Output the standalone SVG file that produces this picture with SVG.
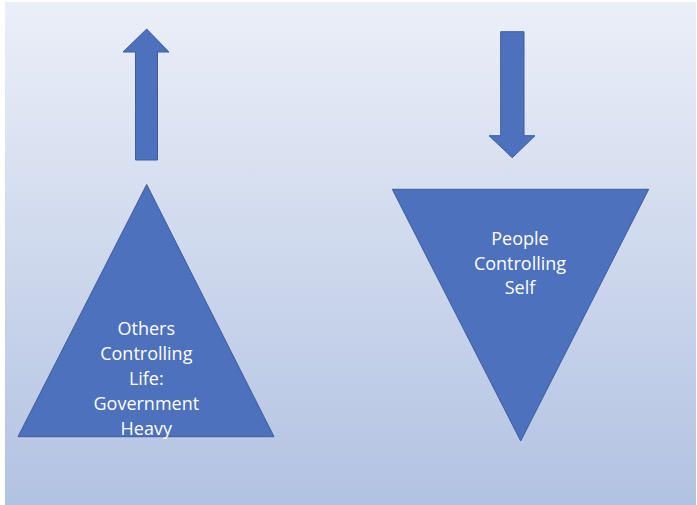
<svg xmlns="http://www.w3.org/2000/svg" width="697" height="505" viewBox="0 0 697 505">
<defs>
<linearGradient id="bg" x1="0" y1="0" x2="0" y2="1">
<stop offset="0" stop-color="#ebeff8"/>
<stop offset="1" stop-color="#b2c2e2"/>
</linearGradient>
<style>
.shape{fill:#4e71be;stroke:#3e5c9c;stroke-width:1}
.lbl{font-family:"Open Sans","Liberation Sans",sans-serif;font-size:18px;fill:#ffffff;text-anchor:middle}
</style>
</defs>
<rect x="0" y="0" width="697" height="505" fill="#ffffff"/>
<rect x="5" y="2" width="691" height="503" fill="url(#bg)"/>
<g id="connectors">
<path id="arrow-up" class="shape" d="M135.5,160 L135.5,52 L123,52 L146.7,29 L169,52 L157.5,52 L157.5,160 Z"/>
<path id="arrow-down" class="shape" d="M500.7,31.7 L524,31.7 L524,135.7 L535,135.7 L512.3,157.7 L489,135.7 L500.7,135.7 Z"/>
</g>
<g id="node-others">
<path class="shape" d="M146.7,184.5 L274,436.7 L18,436.7 Z"/>
<text class="lbl" x="146.3" y="335">Others</text>
<text class="lbl" x="146.3" y="360">Controlling</text>
<text class="lbl" x="146.3" y="385">Life:</text>
<text class="lbl" x="146.3" y="410">Government</text>
<text class="lbl" x="146.3" y="435">Heavy</text>
</g>
<g id="node-people">
<path class="shape" d="M392.3,189.3 L648.7,189.3 L520.7,441 Z"/>
<text class="lbl" x="520" y="245">People</text>
<text class="lbl" x="520" y="269.5">Controlling</text>
<text class="lbl" x="520" y="294">Self</text>
</g>
</svg>
